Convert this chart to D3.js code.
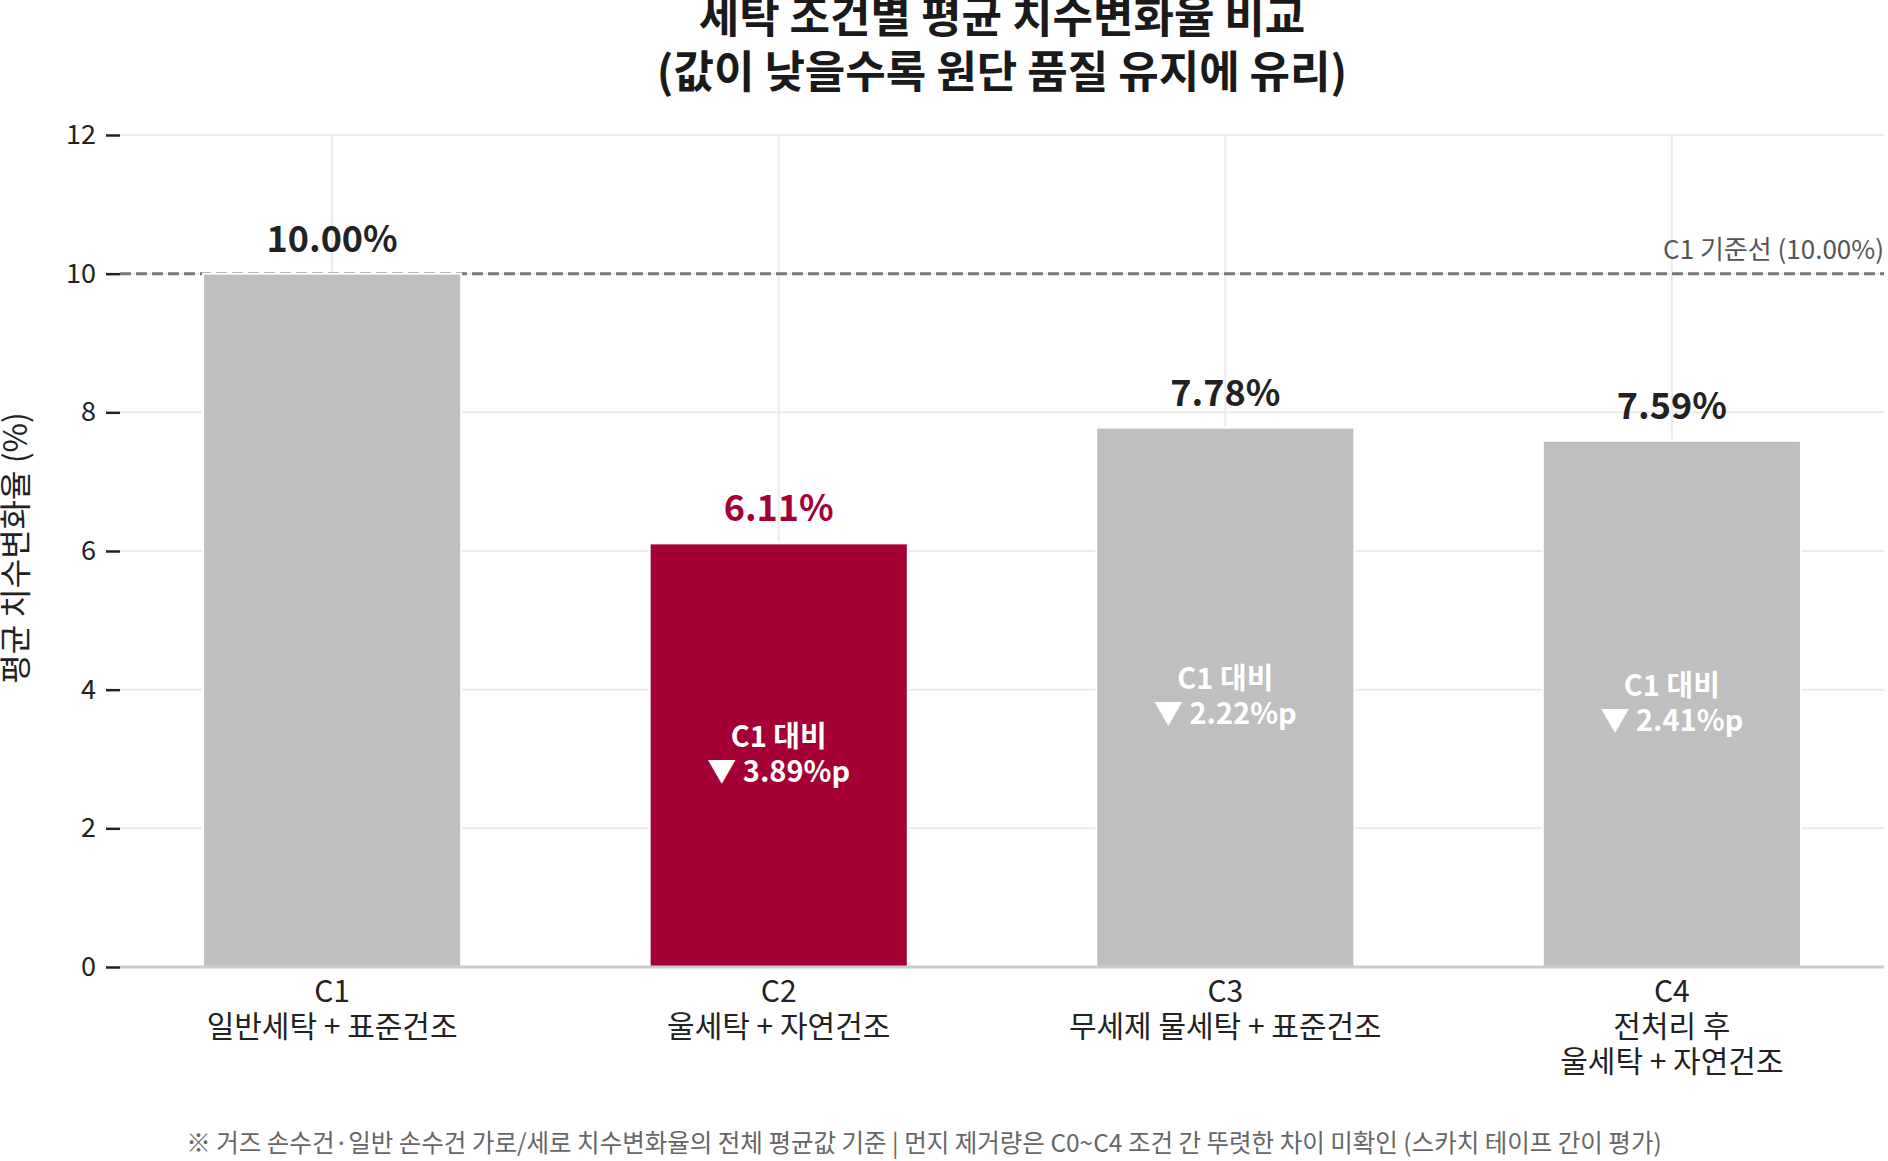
<!DOCTYPE html>
<html>
<head>
<meta charset="utf-8">
<script src="https://cdn.jsdelivr.net/npm/d3@7"></script>
<style>
  html, body { margin: 0; padding: 0; background: #fff; }
  svg { display: block; font-family: "Noto Sans CJK KR", "Noto Sans", sans-serif; }
</style>
</head>
<body>
<svg id="chart" width="1888" height="1161"></svg>
<script>
// data
var codes = ["C1", "C2", "C3", "C4"];
var conditions = [
  ["일반세탁 + 표준건조"],
  ["울세탁 + 자연건조"],
  ["무세제 물세탁 + 표준건조"],
  ["전처리 후", "울세탁 + 자연건조"]
];
var meanChange = [10.00, 6.11, 7.78, 7.59];
var yTicks = [0, 2, 4, 6, 8, 10, 12];
var baseline = 10.00;
var bestIndex = 1;

var W = 1888, H = 1161;
var plot = {left: 120, right: 1884, top: 135, bottom: 967};

var svg = d3.select("#chart");

var x = d3.scaleLinear()
  .domain([-0.475, 3.475])
  .range([plot.left, plot.right]);
var y = d3.scaleLinear()
  .domain([0, 12])
  .range([plot.bottom, plot.top]);
var barW = x(0.578) - x(0);

var red = "#a50034", grey = "#bfbfbf";

// grid
var grid = svg.append("g");
grid.selectAll("line.h").data(yTicks).enter().append("line")
  .attr("x1", plot.left).attr("x2", plot.right)
  .attr("y1", function(d){ return y(d); })
  .attr("y2", function(d){ return y(d); })
  .attr("stroke", "#ebebeb").attr("stroke-width", 2);
grid.selectAll("line.v").data(codes).enter().append("line")
  .attr("x1", function(d, i){ return x(i); })
  .attr("x2", function(d, i){ return x(i); })
  .attr("y1", plot.top).attr("y2", plot.bottom)
  .attr("stroke", "#ebebee").attr("stroke-width", 2);

// C1 reference line
svg.append("line")
  .attr("x1", plot.left).attr("x2", plot.right)
  .attr("y1", y(baseline)).attr("y2", y(baseline))
  .attr("stroke", "#777").attr("stroke-width", 3)
  .attr("stroke-dasharray", "11,5");
svg.append("text")
  .attr("x", plot.right).attr("y", y(baseline) - 15)
  .attr("text-anchor", "end")
  .attr("fill", "#555").attr("font-size", 26)
  .text("C1 기준선 (" + baseline.toFixed(2) + "%)");

// bars
svg.selectAll("rect.bar").data(meanChange).enter().append("rect")
  .attr("x", function(d, i){ return x(i) - barW / 2; })
  .attr("width", barW)
  .attr("y", function(d){ return y(d); })
  .attr("height", function(d){ return y(0) - y(d); })
  .attr("fill", function(d, i){ return i === bestIndex ? red : grey; })
  .attr("stroke", "#fff").attr("stroke-width", 2);

// bottom axis line
svg.append("line")
  .attr("x1", plot.left).attr("x2", plot.right)
  .attr("y1", y(0)).attr("y2", y(0))
  .attr("stroke", "#cccccc").attr("stroke-width", 3);

// value labels
svg.selectAll("text.val").data(meanChange).enter().append("text")
  .attr("x", function(d, i){ return x(i); })
  .attr("y", function(d){ return y(d) - 22; })
  .attr("text-anchor", "middle")
  .attr("font-size", 36).attr("font-weight", 700)
  .attr("fill", function(d, i){ return i === bestIndex ? red : "#222"; })
  .text(function(d){ return d.toFixed(2) + "%"; });

// diff labels inside bars
meanChange.forEach(function(d, i){
  if(i === 0) return;
  var mid = (y(d) + y(0)) / 2;
  var g = svg.append("text")
    .attr("text-anchor", "middle")
    .attr("font-size", 29).attr("font-weight", 700)
    .attr("fill", "#fff");
  g.append("tspan").attr("x", x(i)).attr("y", mid - 8).text("C1 대비");
  g.append("tspan").attr("x", x(i)).attr("y", mid + 27)
    .text("▼ " + (baseline - d).toFixed(2) + "%p");
});

// y axis
var yAxis = d3.axisLeft(y).tickValues(yTicks).tickSize(14).tickPadding(10);
var gy = svg.append("g")
  .attr("transform", "translate(" + plot.left + ",0)")
  .call(yAxis);
gy.select(".domain").remove();
gy.selectAll(".tick line").attr("stroke", "#222").attr("stroke-width", 2.5);
gy.selectAll(".tick text")
  .attr("font-size", 27).attr("fill", "#222")
  .attr("font-family", "Noto Sans CJK KR");

svg.append("text")
  .attr("transform", "translate(27,548) rotate(-90)")
  .attr("text-anchor", "middle")
  .attr("font-size", 32).attr("fill", "#222")
  .text("평균 치수변화율 (%)");

// category labels
codes.forEach(function(c, i){
  var lines = [c].concat(conditions[i]);
  var t = svg.append("text")
    .attr("text-anchor", "middle")
    .attr("font-size", 30).attr("fill", "#222");
  lines.forEach(function(s, k){
    t.append("tspan").attr("x", x(i)).attr("y", y(0) + 35 + k * 35).text(s);
  });
});

// title
var title = svg.append("text")
  .attr("text-anchor", "middle")
  .attr("font-size", 44).attr("font-weight", 700).attr("fill", "#1a1a1a");
title.append("tspan").attr("x", (plot.left + plot.right) / 2).attr("y", 33)
  .text("세탁 조건별 평균 치수변화율 비교");
title.append("tspan").attr("x", (plot.left + plot.right) / 2).attr("y", 88)
  .text("(값이 낮을수록 원단 품질 유지에 유리)");

// footnote
svg.append("text")
  .attr("x", 924).attr("y", 1152)
  .attr("text-anchor", "middle")
  .attr("font-size", 24.5).attr("fill", "#666")
  .text("※ 거즈 손수건·일반 손수건 가로/세로 치수변화율의 전체 평균값 기준  |  먼지 제거량은 C0~C4 조건 간 뚜렷한 차이 미확인 (스카치 테이프 간이 평가)");
</script>
</body>
</html>
